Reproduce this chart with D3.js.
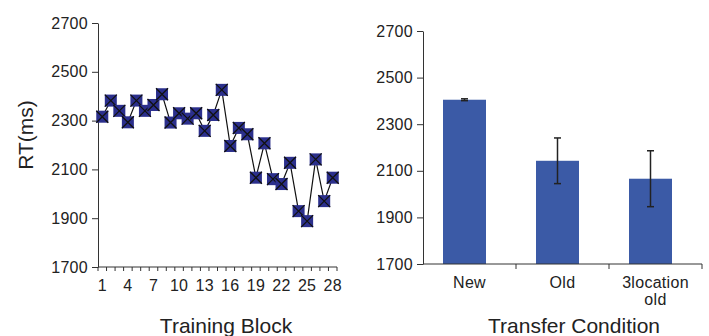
<!DOCTYPE html>
<html>
<head>
<meta charset="utf-8">
<script src="https://cdn.jsdelivr.net/npm/d3@7"></script>
<style>
  body { margin: 0; background: #fff; }
  svg text { font-family: "Liberation Sans", Arial, sans-serif; fill: #222; }
</style>
</head>
<body>
<script>
// training block RTs
const blocks = d3.range(1, 29);
const trainingRT = [2316, 2382, 2340, 2293, 2382, 2340, 2364, 2408, 2292, 2330,
                    2308, 2330, 2258, 2323, 2426, 2196, 2270, 2244, 2066, 2207,
                    2060, 2040, 2127, 1929, 1888, 2141, 1970, 2066];
const blockTicks = [1, 4, 7, 10, 13, 16, 19, 22, 25, 28];

// transfer conditions
const conditions = ["New", "Old", "3location old"];
const transferRT = [2405, 2143, 2066];
const transferErr = [4, 98, 120];

const yTicks = [1700, 1900, 2100, 2300, 2500, 2700];

const width = 709, height = 336;
const axisColor = "#333";
const tickFont = "16px";

const svg = d3.select("body").append("svg")
  .attr("width", width)
  .attr("height", height);

function styleAxis(g) {
  g.selectAll("path.domain").attr("stroke", axisColor);
  g.selectAll(".tick line").attr("stroke", axisColor);
  g.selectAll(".tick text")
    .attr("fill", "#222")
    .style("font-size", tickFont)
    .style("letter-spacing", "0.3px");
}

// ---------- LEFT: training block ----------
const xL = d3.scaleBand().domain(blocks).range([98, 337]);
const yL = d3.scaleLinear().domain([1700, 2700]).range([267, 23]);

svg.append("g")
  .attr("transform", `translate(98,0)`)
  .call(d3.axisLeft(yL).tickValues(yTicks).tickFormat(d3.format("d"))
    .tickSize(6).tickSizeOuter(0).tickPadding(4))
  .call(styleAxis);

// x axis: ticks on the category boundaries
const gxL = svg.append("g").attr("transform", `translate(0,267)`);
gxL.append("line")
  .attr("x1", xL.range()[0]).attr("x2", xL.range()[1])
  .attr("stroke", axisColor);
gxL.selectAll("line.tk")
  .data(blocks.concat([29]))
  .enter().append("line")
  .attr("class", "tk")
  .attr("x1", d => d === 29 ? xL.range()[1] : xL(d))
  .attr("x2", d => d === 29 ? xL.range()[1] : xL(d))
  .attr("y1", 0).attr("y2", 4)
  .attr("stroke", axisColor);
gxL.selectAll("text")
  .data(blockTicks)
  .enter().append("text")
  .attr("x", d => xL(d) + xL.bandwidth() / 2)
  .attr("y", 24)
  .attr("text-anchor", "middle")
  .style("font-size", tickFont)
  .style("letter-spacing", "0.3px")
  .text(d => d);

const line = d3.line()
  .x((d, i) => xL(blocks[i]) + xL.bandwidth() / 2)
  .y(d => yL(d));

svg.append("path")
  .datum(trainingRT)
  .attr("d", line)
  .attr("fill", "none")
  .attr("stroke", "#111")
  .attr("stroke-width", 1.2);

const ms = 12;
const markers = svg.selectAll("g.mk")
  .data(trainingRT)
  .enter().append("g")
  .attr("class", "mk")
  .attr("transform", (d, i) => `translate(${xL(blocks[i]) + xL.bandwidth() / 2},${yL(d)})`);
markers.append("rect")
  .attr("x", -ms / 2).attr("y", -ms / 2)
  .attr("width", ms).attr("height", ms)
  .attr("fill", "#2b2f8c");
markers.append("path")
  .attr("d", `M${-ms/2},${-ms/2}L${ms/2},${ms/2}M${ms/2},${-ms/2}L${-ms/2},${ms/2}`)
  .attr("stroke", "#111")
  .attr("stroke-width", 1.3);

svg.append("text")
  .attr("transform", `translate(33,135) rotate(-90)`)
  .attr("text-anchor", "middle")
  .style("font-size", "21px")
  .text("RT(ms)");

svg.append("text")
  .attr("x", 226).attr("y", 333)
  .attr("text-anchor", "middle")
  .style("font-size", "21px")
  .text("Training Block");

// ---------- RIGHT: transfer condition ----------
const xR = d3.scaleBand().domain(conditions).range([423, 702]);
const yR = d3.scaleLinear().domain([1700, 2700]).range([264, 31]);
const barW = 43, barShift = -5;

svg.append("g")
  .attr("transform", `translate(423,0)`)
  .call(d3.axisLeft(yR).tickValues(yTicks).tickFormat(d3.format("d"))
    .tickSize(6).tickSizeOuter(0).tickPadding(4))
  .call(styleAxis);

svg.selectAll("rect.bar")
  .data(transferRT)
  .enter().append("rect")
  .attr("class", "bar")
  .attr("x", (d, i) => xR(conditions[i]) + xR.bandwidth() / 2 - barW / 2 + barShift)
  .attr("y", d => yR(d))
  .attr("width", barW)
  .attr("height", d => yR(1700) - yR(d))
  .attr("fill", "#3b5aa6");

const err = svg.selectAll("g.err")
  .data(transferRT)
  .enter().append("g")
  .attr("class", "err")
  .attr("transform", (d, i) => `translate(${xR(conditions[i]) + xR.bandwidth() / 2 + barShift},0)`);
err.append("line")
  .attr("y1", (d, i) => yR(d + transferErr[i]))
  .attr("y2", (d, i) => yR(d - transferErr[i]))
  .attr("stroke", "#222").attr("stroke-width", 1.5);
err.selectAll("line.cap")
  .data((d, i) => [d + transferErr[i], d - transferErr[i]])
  .enter().append("line")
  .attr("class", "cap")
  .attr("x1", -3.5).attr("x2", 3.5)
  .attr("y1", d => yR(d)).attr("y2", d => yR(d))
  .attr("stroke", "#222").attr("stroke-width", 1.5);

const gxR = svg.append("g").attr("transform", `translate(0,264)`);
gxR.append("line")
  .attr("x1", xR.range()[0]).attr("x2", xR.range()[1])
  .attr("stroke", axisColor);
gxR.selectAll("line.tk")
  .data(conditions)
  .enter().append("line")
  .attr("class", "tk")
  .attr("x1", d => xR(d) + xR.bandwidth())
  .attr("x2", d => xR(d) + xR.bandwidth())
  .attr("y1", 0).attr("y2", 5)
  .attr("stroke", axisColor);
gxR.selectAll("text")
  .data(conditions)
  .enter().append("text")
  .attr("x", d => xR(d) + xR.bandwidth() / 2)
  .attr("y", 24)
  .attr("text-anchor", "middle")
  .style("font-size", tickFont)
  .style("letter-spacing", "0.3px")
  .each(function(d) {
    const words = d === "3location old" ? ["3location", "old"] : [d];
    words.forEach((w, k) => {
      d3.select(this).append("tspan")
        .attr("x", xR(d) + xR.bandwidth() / 2)
        .attr("dy", k === 0 ? 0 : 17)
        .text(w);
    });
  });

svg.append("text")
  .attr("x", 574).attr("y", 333)
  .attr("text-anchor", "middle")
  .style("font-size", "21px")
  .text("Transfer Condition");
</script>
</body>
</html>
